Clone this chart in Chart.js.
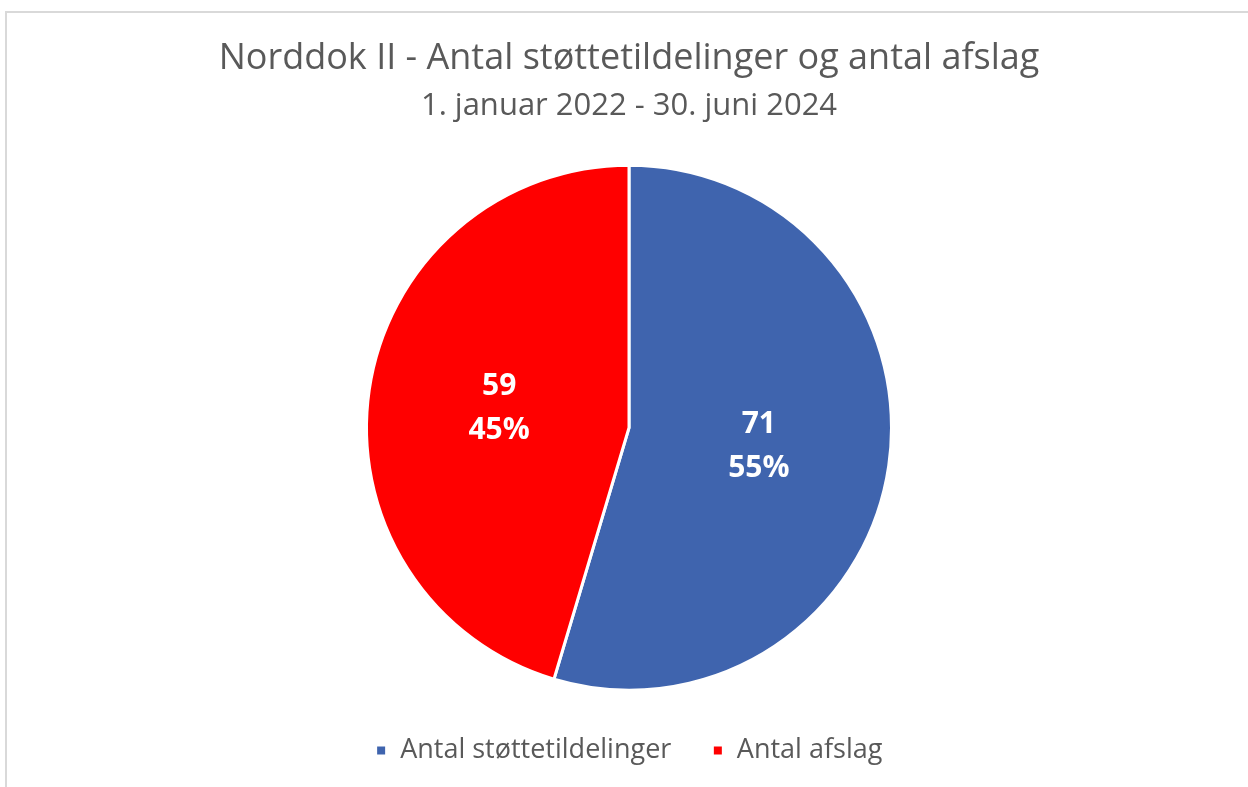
<!DOCTYPE html>
<html>
<head>
<meta charset="utf-8">
<script src="https://cdn.jsdelivr.net/npm/chart.js@4.4.1/dist/chart.umd.min.js"></script>
<style>
  html, body { margin: 0; padding: 0; background: #fff; overflow: hidden; width: 1248px; height: 787px; }
  #frame { position: absolute; left: 5px; top: 11px; width: 1400px; height: 900px; border: 2px solid #d9d9d9; box-sizing: border-box; }
  #wrap { position: absolute; left: 0; top: 0; width: 1248px; height: 787px; }
</style>
</head>
<body>
<div id="frame"></div>
<div id="wrap"><canvas id="c" width="1248" height="787"></canvas></div>
<script>
const titleText = "Norddok II - Antal støttetildelinger og antal afslag";
const subtitleText = "1. januar 2022 - 30. juni 2024";
const categories = ["Antal støttetildelinger", "Antal afslag"];
const values = [71, 59];
const colors = ["#3F64AE", "#FF0000"];

const FONT = "'Open Sans', 'DejaVu Sans', sans-serif";
const textGray = "#595959";

const sliceLabels = {
  id: "sliceLabels",
  afterDatasetsDraw(chart) {
    const ctx = chart.ctx;
    const ds = chart.data.datasets[0];
    const total = ds.data.reduce((a, b) => a + b, 0);
    const meta = chart.getDatasetMeta(0);
    ctx.save();
    ctx.fillStyle = "#ffffff";
    ctx.font = "bold 30px " + FONT;
    ctx.textAlign = "center";
    ctx.textBaseline = "middle";
    meta.data.forEach((arc, i) => {
      const p = arc.tooltipPosition();
      const v = ds.data[i];
      const pct = Math.round(v / total * 100) + "%";
      ctx.fillText(String(v), p.x, p.y - 22);
      ctx.fillText(pct, p.x, p.y + 22);
    });
    ctx.restore();
  }
};

new Chart(document.getElementById("c"), {
  type: "pie",
  data: {
    labels: categories,
    datasets: [{
      data: values,
      backgroundColor: colors,
      borderColor: "#ffffff",
      borderWidth: 3,
      radius: 262.5
    }]
  },
  options: {
    responsive: false,
    animation: false,
    layout: { padding: { left: 10, right: 0, top: 0, bottom: 13 } },
    plugins: {
      title: {
        display: true,
        text: titleText,
        color: textGray,
        font: { family: FONT, size: 36, weight: "normal", lineHeight: 1.2 },
        padding: { top: 37, bottom: 0 }
      },
      subtitle: {
        display: true,
        text: subtitleText,
        color: textGray,
        font: { family: FONT, size: 31, weight: "normal", lineHeight: 1.2 },
        padding: { top: 7.5, bottom: 34.5 }
      },
      legend: {
        display: true,
        position: "bottom",
        labels: {
          color: textGray,
          font: { family: FONT, size: 27 },
          boxWidth: 11,
          boxHeight: 11,
          padding: 41
        }
      },
      tooltip: { enabled: false }
    }
  },
  plugins: [sliceLabels]
});
</script>
</body>
</html>
